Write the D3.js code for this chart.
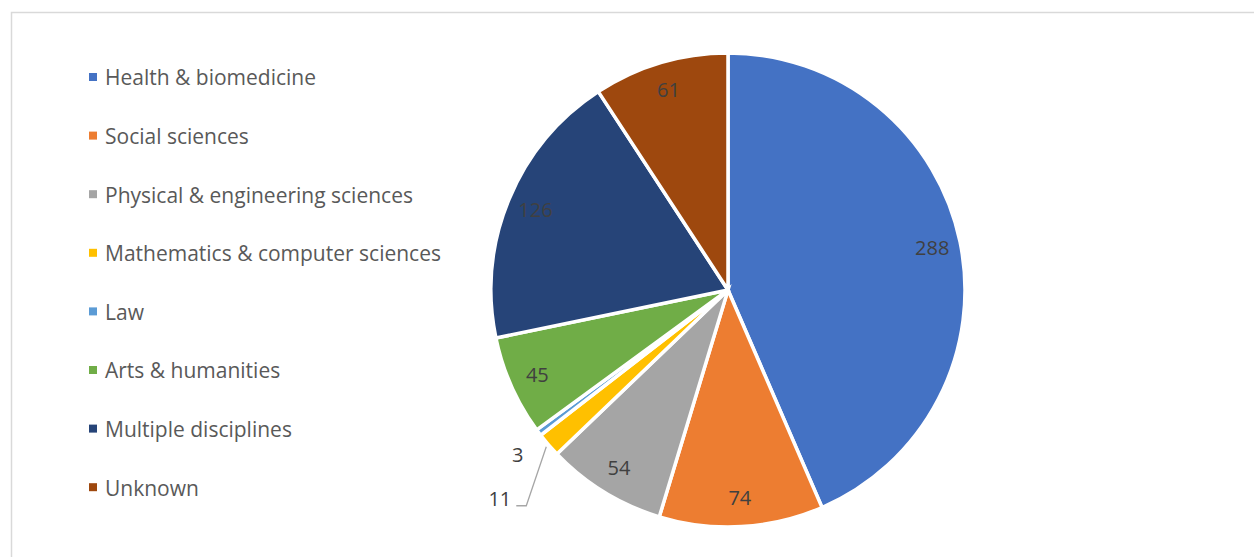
<!DOCTYPE html>
<html>
<head>
<meta charset="utf-8">
<script src="https://cdnjs.cloudflare.com/ajax/libs/d3/7.8.5/d3.min.js"></script>
<style>
  body { margin: 0; background: #fff; }
  text { font-family: "Open Sans", Lato, sans-serif; }
</style>
</head>
<body>
<div class="chart"></div>
<script>
var svgWidth = 1254;
var svgHeight = 557;

// chart data
var categories = ["Health & biomedicine", "Social sciences", "Physical & engineering sciences",
  "Mathematics & computer sciences", "Law", "Arts & humanities", "Multiple disciplines", "Unknown"];
var counts = [288, 74, 54, 11, 3, 45, 126, 61];
var colors = ["#4472C4", "#ED7D31", "#A5A5A5", "#FFC000", "#5B9BD5", "#70AD47", "#264478", "#9E480E"];

var cx = 728, cy = 290, radius = 237;

var svg = d3.select(".chart")
  .append("svg")
  .attr("width", svgWidth)
  .attr("height", svgHeight);

// chart area frame
svg.append("rect")
  .attr("x", 11.5)
  .attr("y", 12.5)
  .attr("width", svgWidth)
  .attr("height", svgHeight)
  .attr("fill", "none")
  .attr("stroke", "#d9d9d9")
  .attr("stroke-width", 1.5);

var data = categories.map(function(c, i) {
  return { name: c, value: counts[i], color: colors[i] };
});

var pie = d3.pie()
  .sort(null)
  .value(d => d.value);

var arcs = pie(data);

var arc = d3.arc().innerRadius(0).outerRadius(radius);
var labelArc = d3.arc().innerRadius(radius * 0.88).outerRadius(radius * 0.88);
var outArc = d3.arc().innerRadius(radius * 1.10).outerRadius(radius * 1.10);
var edgeArc = d3.arc().innerRadius(radius + 3).outerRadius(radius + 3);

var pieGroup = svg.append("g")
  .attr("transform", `translate(${cx}, ${cy})`);

pieGroup.selectAll("path.slice")
  .data(arcs)
  .enter()
  .append("path")
  .attr("class", "slice")
  .attr("d", arc)
  .attr("fill", d => d.data.color)
  .attr("stroke", "#fff")
  .attr("stroke-width", 3.5)
  .attr("stroke-linejoin", "miter");

var labelSize = 20;

// data labels
arcs.forEach(function(d) {
  var frac = d.value / d3.sum(counts);
  if (frac > 0.03) {
    var p = labelArc.centroid(d);
    pieGroup.append("text")
      .attr("x", p[0])
      .attr("y", p[1])
      .attr("text-anchor", "middle")
      .attr("dy", "0.35em")
      .attr("font-size", labelSize)
      .attr("fill", "#404040")
      .text(d.value);
  } else if (d.value < 5) {
    // tiny slice: label just outside, no leader
    var q = outArc.centroid(d);
    pieGroup.append("text")
      .attr("x", q[0] - 2)
      .attr("y", q[1] + 8)
      .attr("text-anchor", "middle")
      .attr("dy", "0.35em")
      .attr("font-size", labelSize)
      .attr("fill", "#404040")
      .text(d.value);
  } else {
    // leader line label
    var s = edgeArc.centroid(d);
    var elbow = [s[0] - 20, s[1] + 59];
    var end = [elbow[0] - 10, elbow[1]];
    pieGroup.append("polyline")
      .attr("points", [s, elbow, end].map(p => p.join(",")).join(" "))
      .attr("fill", "none")
      .attr("stroke", "#a6a6a6")
      .attr("stroke-width", 1.3);
    pieGroup.append("text")
      .attr("x", end[0] - 5)
      .attr("y", end[1] - 7)
      .attr("text-anchor", "end")
      .attr("dy", "0.35em")
      .attr("font-size", labelSize)
      .attr("fill", "#404040")
      .text(d.value);
  }
});

// legend
var legend = svg.append("g")
  .attr("transform", "translate(89, 77)");

var rows = legend.selectAll("g")
  .data(data)
  .enter()
  .append("g")
  .attr("transform", (d, i) => `translate(0, ${i * 58.6})`);

rows.append("rect")
  .attr("x", 0)
  .attr("y", -4)
  .attr("width", 8)
  .attr("height", 8)
  .attr("fill", d => d.color);

rows.append("text")
  .attr("x", 16)
  .attr("y", 1)
  .attr("dy", "0.35em")
  .attr("font-size", 21)
  .attr("fill", "#595959")
  .text(d => d.name);
</script>
</body>
</html>
